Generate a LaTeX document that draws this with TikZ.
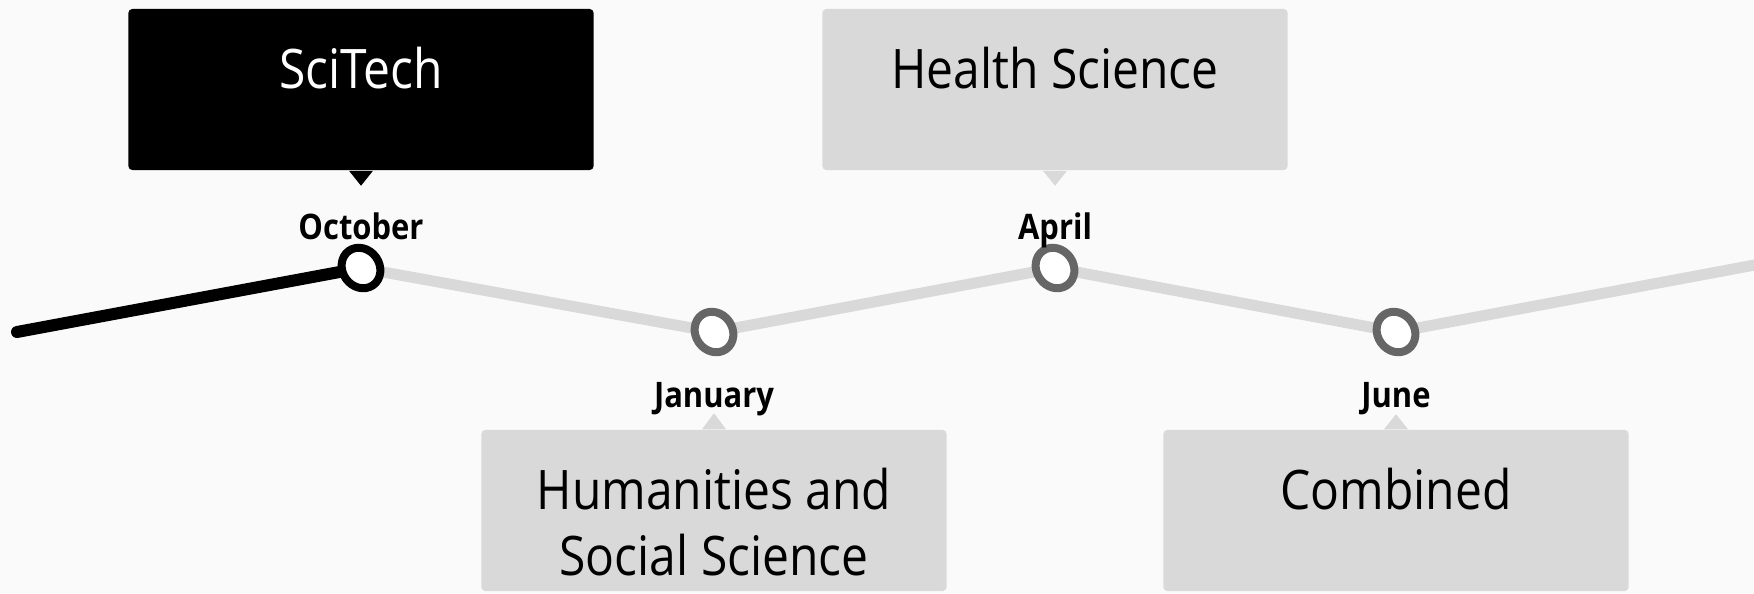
\documentclass[tikz,border=0pt]{standalone}
\usepackage{fontspec}
\setmainfont{Open Sans}[FakeStretch=0.88]
\usetikzlibrary{calc,shapes.geometric}

\tikzset{
	tlbox/.style={rectangle, rounded corners=0.04cm, minimum width=4.65cm, minimum height=1.61cm, inner sep=0pt},
	tltitle/.style={font=\fontsize{15.5}{18.8}\selectfont, align=center, anchor=base, inner sep=0pt},
	tlmonth/.style={font=\fontsize{10}{12}\selectfont\bfseries, anchor=base, inner sep=0pt},
	tldot/.style={ellipse, fill=white, line width=0.08cm, minimum width=0.37cm, minimum height=0.42cm, rotate=35, inner sep=0pt},
	tlline/.style={line width=0.11cm, color=black!15},
}

\begin{document}
\begin{tikzpicture}[x=0.01cm, y=-0.01cm]
			%%%%% START %%%%%
			
			\useasboundingbox (0, 0) rectangle (1754, 594);
			\fill[black!2] (0, 0) rectangle (1754, 594);
			
			% boxes
			\node[tlbox, fill=black] (scibox) at (361, 89.5) {};
			\node[tlbox, fill=black!15] (hsbox) at (1055, 89.5) {};
			\node[tlbox, fill=black!15] (humbox) at (714, 510.5) {};
			\node[tlbox, fill=black!15] (combox) at (1396, 510.5) {};
			
			\fill[black] ($(scibox.south)+(-12, 0)$) -- ($(scibox.south)+(0, 15)$) -- ($(scibox.south)+(12, 0)$) -- cycle;
			\fill[black!15] ($(hsbox.south)+(-12, 0)$) -- ($(hsbox.south)+(0, 15)$) -- ($(hsbox.south)+(12, 0)$) -- cycle;
			\fill[black!15] ($(humbox.north)+(-12, 0)$) -- ($(humbox.north)+(0, -16)$) -- ($(humbox.north)+(12, 0)$) -- cycle;
			\fill[black!15] ($(combox.north)+(-12, 0)$) -- ($(combox.north)+(0, -15)$) -- ($(combox.north)+(12, 0)$) -- cycle;
			
			\node[tltitle, text=white] (scitxt) at ($(scibox.north)+(0, 80)$) {SciTech};
			\node[tltitle] (hstxt) at ($(hsbox.north)+(0, 80)$) {Health Science};
			\node[tltitle] (humtxt) at ($(humbox.north)+(0, 146)$) {Humanities and\\Social Science};
			\node[tltitle] (comtxt) at ($(combox.north)+(0, 80)$) {Combined};
			
			% timeline
			\coordinate (start) at (17, 332);
			\coordinate (oct) at (361, 268);
			\coordinate (jan) at (714, 332);
			\coordinate (apr) at (1055, 268);
			\coordinate (jun) at (1396, 332);
			\coordinate (end) at (1760, 264);
			
			\draw[tlline] (oct) -- (jan) -- (apr) -- (jun) -- (end);
			\draw[tlline, color=black, line width=0.12cm, line cap=round] (start) -- (oct);
			
			\node[tldot, draw=black] (octdot) at (oct) {};
			\node[tldot, draw=black!60] (jandot) at (jan) {};
			\node[tldot, draw=black!60] (aprdot) at (apr) {};
			\node[tldot, draw=black!60] (jundot) at (jun) {};
			
			\node[tlmonth] (octlbl) at (361, 239) {October};
			\node[tlmonth] (aprlbl) at (1055, 239) {April};
			\node[tlmonth] (janlbl) at (714, 407) {January};
			\node[tlmonth] (junlbl) at (1396, 407) {June};
			
			%%%%% END %%%%%
		\end{tikzpicture}
\end{document}
